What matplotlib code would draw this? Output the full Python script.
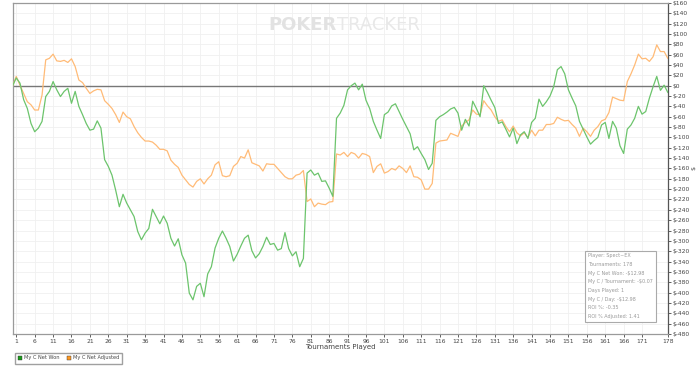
import matplotlib
matplotlib.use('Agg')
import matplotlib.pyplot as plt
from matplotlib.lines import Line2D
from matplotlib.patches import Rectangle

# ---- data ----
net_won = [
    0, 15, 5, -27, -44, -73, -89, -82, -69, -21,
    -11, 8, -8, -21, -11, -5, -34, -11, -40, -56,
    -73, -86, -84, -68, -82, -143, -156, -173, -202, -234,
    -210, -227, -240, -253, -282, -298, -285, -276, -239, -253,
    -267, -252, -266, -295, -310, -296, -327, -343, -401, -414,
    -388, -382, -408, -364, -350, -314, -295, -281, -295, -311,
    -339, -326, -310, -295, -289, -319, -333, -325, -311, -293,
    -307, -305, -318, -315, -284, -315, -329, -321, -350, -334,
    -169, -163, -173, -169, -185, -184, -198, -214, -63, -53,
    -38, -8, 0, 5, -8, 3, -28, -44, -69, -86,
    -102, -56, -51, -39, -35, -50, -65, -79, -93, -124,
    -118, -131, -143, -162, -150, -67, -60, -56, -51, -45,
    -42, -53, -86, -65, -78, -30, -44, -60, 0, -13,
    -28, -42, -73, -70, -84, -99, -82, -112, -95, -89,
    -102, -71, -63, -26, -40, -31, -20, -2, 31, 37,
    23, -8, -24, -39, -69, -84, -99, -113, -106, -100,
    -76, -71, -102, -69, -82, -116, -131, -84, -76, -63,
    -40, -55, -50, -24, -2, 18, -9, 1, -12.98,
]
net_adjusted = [
    0, 18, 1, -15, -31, -37, -47, -47, -18, 50,
    53, 61, 48, 47, 49, 45, 52, 37, 11, 6,
    -5, -15, -10, -7, -8, -29, -36, -44, -56, -71,
    -51, -60, -64, -79, -91, -100, -107, -107, -109, -115,
    -123, -123, -126, -144, -152, -158, -173, -182, -191, -196,
    -185, -180, -190, -180, -173, -153, -147, -174, -176, -174,
    -156, -150, -137, -140, -124, -149, -152, -155, -165, -151,
    -152, -152, -160, -168, -176, -180, -180, -173, -171, -164,
    -224, -219, -234, -227, -229, -230, -225, -224, -132, -134,
    -129, -137, -129, -132, -140, -131, -133, -137, -168, -156,
    -151, -169, -166, -160, -163, -155, -160, -168, -155, -176,
    -177, -182, -200, -200, -189, -111, -107, -106, -105, -92,
    -95, -98, -78, -71, -66, -47, -55, -56, -29, -39,
    -47, -60, -69, -66, -79, -89, -78, -91, -97, -91,
    -100, -86, -97, -86, -86, -75, -75, -73, -61, -65,
    -68, -67, -75, -82, -98, -82, -89, -98, -86, -79,
    -68, -65, -52, -22, -25, -28, -29, 8, 23, 40,
    61, 52, 53, 47, 56, 79, 66, 66, 53,
]
tournaments = list(range(len(net_won)))
x_ticks = list(range(1, 172, 5)) + [178]
y_ticks = list(range(-480, 161, 20))

info_lines = [
    'Player: Spect~EX',
    'Tournaments: 178',
    'My C Net Won: -$12.98',
    'My C / Tournament: -$0.07',
    'Days Played: 1',
    'My C / Day: -$12.98',
    'ROI %: -0.35',
    'ROI % Adjusted: 1.41',
]

# ---- style ----
C_GREEN = '#6cc46c'
C_ORANGE = '#ffbb77'
C_FRAME = '#9a9a9a'
C_TEXT = '#444444'

fig = plt.figure(figsize=(7.0, 3.69), dpi=100, facecolor='white')
ax = fig.add_axes([0.018, 0.095, 0.936, 0.897])

ax.plot(tournaments, net_adjusted, color=C_ORANGE, lw=0.9, zorder=3)
ax.plot(tournaments, net_won, color=C_GREEN, lw=0.9, zorder=4)
ax.axhline(0, color='#777777', lw=1.0, zorder=2)

ax.set_xlim(0, 178)
ax.set_ylim(-480, 160)
ax.set_xticks(x_ticks)
ax.set_yticks(y_ticks)
ax.set_yticklabels([f'${v}' for v in y_ticks])
ax.yaxis.tick_right()
ax.yaxis.set_label_position('right')
ax.set_ylabel('$', fontsize=4.5, color=C_TEXT, labelpad=1)
ax.set_xlabel('Tournaments Played', fontsize=5, color=C_TEXT, labelpad=2)
ax.xaxis.set_label_coords(0.5, -0.03)

ax.tick_params(axis='both', labelsize=4.3, colors=C_TEXT, length=2, width=0.6, pad=1.5)
ax.grid(True, color='#f0f0f0', lw=0.6, zorder=0)
ax.set_axisbelow(True)
for side, sp in ax.spines.items():
    sp.set_color(C_FRAME)
    sp.set_linewidth(0.9)
ax.spines['right'].set_color('#555555')

# ---- watermark ----
fig.text(0.481, 0.932, 'POKER', ha='right', va='center', fontsize=13,
         fontweight='bold', color='#e2e2e2')
fig.text(0.481, 0.932, 'TRACKER', ha='left', va='center', fontsize=13,
         color='#e8e8e8')

# ---- info box ----
fig.patches.append(Rectangle((585 / 700, 1 - 322 / 369), 71 / 700, 71 / 369,
                             transform=fig.transFigure, facecolor='white',
                             edgecolor='#aaaaaa', lw=0.8, zorder=5))
for i, line in enumerate(info_lines):
    fig.text(588 / 700, 1 - (256 + i * 8.6) / 369, line, ha='left', va='center',
             fontsize=3.5, color='#999999', zorder=6)

# ---- legend ----
handles = [
    Line2D([], [], ls='none', marker='s', ms=3.0, mfc='#1a9a1a', mec='#333333', mew=0.3),
    Line2D([], [], ls='none', marker='s', ms=3.0, mfc='#ff9922', mec='#333333', mew=0.3),
]
fig.legend(handles, ['My C Net Won', 'My C Net Adjusted'], loc='lower left',
           bbox_to_anchor=(12 / 700, 1 - 366 / 369), ncol=2, fontsize=3.6,
           frameon=True, fancybox=False, edgecolor='#888888', handlelength=0.8,
           handletextpad=0.4, columnspacing=1.6, borderpad=0.6,
           labelcolor='#444444')

fig.savefig('out.png', dpi=100)
